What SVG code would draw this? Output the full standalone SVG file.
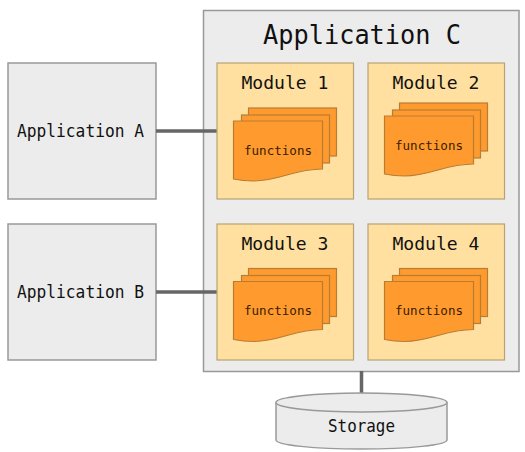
<svg xmlns="http://www.w3.org/2000/svg" xmlns:xlink="http://www.w3.org/1999/xlink" width="525" height="452" viewBox="0 0 525 452">
<style>
text{font-family:"DejaVu Sans Mono","Liberation Mono",monospace;fill:#111;text-anchor:middle}
.box{fill:#ececec;stroke:#999;stroke-width:1.5}
.mod{fill:#ffe0a0;stroke:#b8a274;stroke-width:1.2}
.sheet{fill:#ff9a2e;stroke:#b87d35;stroke-width:1.2}
.conn{stroke:#666;stroke-width:3.5;fill:none}
.m{font-size:18.500px}.f{font-size:13px;fill:#3a1c00}.a{font-size:16.800px}
</style>
<defs>
<g id="stack">
<rect class="sheet" x="15" y="-13" width="88" height="48"/>
<rect class="sheet" x="8" y="-6" width="88" height="48"/>
<path class="sheet" d="M0 0H89V48C60 48 46 60 20 60C10 60 5 59 0 58Z"/>
</g>
</defs>
<g id="app-a"><rect class="box" x="8" y="63" width="148" height="136"/><text class="a" x="80.500" y="137" textLength="127" lengthAdjust="spacingAndGlyphs">Application A</text></g>
<g id="app-b"><rect class="box" x="8" y="224" width="148" height="136"/><text class="a" x="80.500" y="298" textLength="127" lengthAdjust="spacingAndGlyphs">Application B</text></g>
<g id="app-c"><rect class="box" x="203.500" y="10.500" width="315.500" height="361"/><text x="362" y="44" font-size="26.500" textLength="198" lengthAdjust="spacingAndGlyphs">Application C</text></g>
<g id="connectors">
<path class="conn" d="M156 131H217M156 292H217M361.500 371V393"/>
</g>
<g id="module-1"><rect class="mod" x="217" y="63" width="136.500" height="136"/><text class="m" x="285" y="89" textLength="87" lengthAdjust="spacingAndGlyphs">Module 1</text><use xlink:href="#stack" href="#stack" x="233.500" y="121"/><text class="f" x="278" y="155" textLength="68" lengthAdjust="spacingAndGlyphs">functions</text></g>
<g id="module-2"><rect class="mod" x="368" y="63" width="136.500" height="136"/><text class="m" x="436" y="89" textLength="87" lengthAdjust="spacingAndGlyphs">Module 2</text><use xlink:href="#stack" href="#stack" x="384.500" y="116"/><text class="f" x="429" y="150" textLength="68" lengthAdjust="spacingAndGlyphs">functions</text></g>
<g id="module-3"><rect class="mod" x="217" y="224" width="136.500" height="136"/><text class="m" x="285" y="250" textLength="87" lengthAdjust="spacingAndGlyphs">Module 3</text><use xlink:href="#stack" href="#stack" x="233.500" y="281.500"/><text class="f" x="278" y="315" textLength="68" lengthAdjust="spacingAndGlyphs">functions</text></g>
<g id="module-4"><rect class="mod" x="368" y="224" width="136.500" height="136"/><text class="m" x="436" y="250" textLength="87" lengthAdjust="spacingAndGlyphs">Module 4</text><use xlink:href="#stack" href="#stack" x="384.500" y="281.500"/><text class="f" x="429" y="315" textLength="68" lengthAdjust="spacingAndGlyphs">functions</text></g>
<g id="storage"><path class="box" d="M276 402.500V440C276 445 314 449 361.500 449S447 445 447 440V402.500"/><ellipse class="box" cx="361.500" cy="402.500" rx="85.500" ry="9.500"/><text class="a" x="361.500" y="432" textLength="67" lengthAdjust="spacingAndGlyphs">Storage</text></g>
</svg>
